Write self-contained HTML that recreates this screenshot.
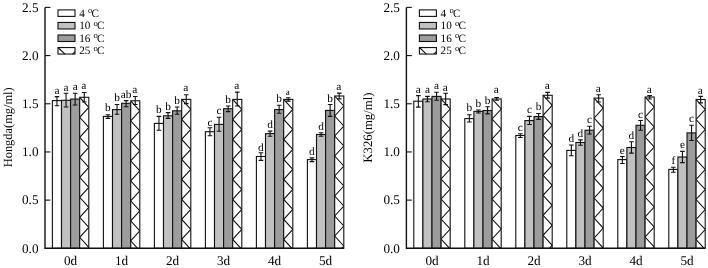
<!DOCTYPE html>
<html lang="en"><head><meta charset="utf-8"><title>Chart</title>
<style>
html,body{margin:0;padding:0;background:#fff;}
svg{display:block;text-rendering:geometricPrecision;will-change:transform;opacity:0.999;font-family:"Liberation Serif", "DejaVu Serif", serif;fill:#000;}
</style></head><body>
<svg width="708" height="268" viewBox="0 0 708 268">
<rect width="708" height="268" fill="#fff"/>
<rect x="52.4" y="100.6" width="9.1" height="147.7" fill="#ffffff" stroke="#111111" stroke-width="1.1"/>
<rect x="61.5" y="100.3" width="9.1" height="148" fill="#c1c1c1" stroke="#111111" stroke-width="1.1"/>
<rect x="70.6" y="99.1" width="9.1" height="149.2" fill="#9c9c9c" stroke="#111111" stroke-width="1.1"/>
<clipPath id="c1"><rect x="79.7" y="97.3" width="9.1" height="151"/></clipPath>
<rect x="79.7" y="97.3" width="9.1" height="151" fill="#fff"/>
<path d="M79.7 97.3 L88.8 107.3 L79.7 117.3 L88.8 127.3 L79.7 137.3 L88.8 147.3 L79.7 157.3 L88.8 167.3 L79.7 177.3 L88.8 187.3 L79.7 197.3 L88.8 207.3 L79.7 217.3 L88.8 227.3 L79.7 237.3 L88.8 247.3 L79.7 257.3 L88.8 267.3" clip-path="url(#c1)" fill="none" stroke="#111111" stroke-width="1.1"/>
<rect x="79.7" y="97.3" width="9.1" height="151" fill="none" stroke="#111111" stroke-width="1.1"/>
<rect x="103.4" y="116.4" width="9.1" height="131.9" fill="#ffffff" stroke="#111111" stroke-width="1.1"/>
<rect x="112.5" y="109.6" width="9.1" height="138.7" fill="#c1c1c1" stroke="#111111" stroke-width="1.1"/>
<rect x="121.6" y="103.3" width="9.1" height="145" fill="#9c9c9c" stroke="#111111" stroke-width="1.1"/>
<clipPath id="c2"><rect x="130.7" y="100.8" width="9.1" height="147.5"/></clipPath>
<rect x="130.7" y="100.8" width="9.1" height="147.5" fill="#fff"/>
<path d="M130.7 100.8 L139.8 110.8 L130.7 120.8 L139.8 130.8 L130.7 140.8 L139.8 150.8 L130.7 160.8 L139.8 170.8 L130.7 180.8 L139.8 190.8 L130.7 200.8 L139.8 210.8 L130.7 220.8 L139.8 230.8 L130.7 240.8 L139.8 250.8 L130.7 260.8" clip-path="url(#c2)" fill="none" stroke="#111111" stroke-width="1.1"/>
<rect x="130.7" y="100.8" width="9.1" height="147.5" fill="none" stroke="#111111" stroke-width="1.1"/>
<rect x="154.4" y="123.4" width="9.1" height="124.9" fill="#ffffff" stroke="#111111" stroke-width="1.1"/>
<rect x="163.5" y="115.8" width="9.1" height="132.5" fill="#c1c1c1" stroke="#111111" stroke-width="1.1"/>
<rect x="172.6" y="110.8" width="9.1" height="137.5" fill="#9c9c9c" stroke="#111111" stroke-width="1.1"/>
<clipPath id="c3"><rect x="181.7" y="99.4" width="9.1" height="148.9"/></clipPath>
<rect x="181.7" y="99.4" width="9.1" height="148.9" fill="#fff"/>
<path d="M181.7 99.4 L190.8 109.4 L181.7 119.4 L190.8 129.4 L181.7 139.4 L190.8 149.4 L181.7 159.4 L190.8 169.4 L181.7 179.4 L190.8 189.4 L181.7 199.4 L190.8 209.4 L181.7 219.4 L190.8 229.4 L181.7 239.4 L190.8 249.4 L181.7 259.4" clip-path="url(#c3)" fill="none" stroke="#111111" stroke-width="1.1"/>
<rect x="181.7" y="99.4" width="9.1" height="148.9" fill="none" stroke="#111111" stroke-width="1.1"/>
<rect x="205.4" y="131.7" width="9.1" height="116.6" fill="#ffffff" stroke="#111111" stroke-width="1.1"/>
<rect x="214.5" y="124.4" width="9.1" height="123.9" fill="#c1c1c1" stroke="#111111" stroke-width="1.1"/>
<rect x="223.6" y="108.7" width="9.1" height="139.6" fill="#9c9c9c" stroke="#111111" stroke-width="1.1"/>
<clipPath id="c4"><rect x="232.7" y="99.4" width="9.1" height="148.9"/></clipPath>
<rect x="232.7" y="99.4" width="9.1" height="148.9" fill="#fff"/>
<path d="M232.7 99.4 L241.8 109.4 L232.7 119.4 L241.8 129.4 L232.7 139.4 L241.8 149.4 L232.7 159.4 L241.8 169.4 L232.7 179.4 L241.8 189.4 L232.7 199.4 L241.8 209.4 L232.7 219.4 L241.8 229.4 L232.7 239.4 L241.8 249.4 L232.7 259.4" clip-path="url(#c4)" fill="none" stroke="#111111" stroke-width="1.1"/>
<rect x="232.7" y="99.4" width="9.1" height="148.9" fill="none" stroke="#111111" stroke-width="1.1"/>
<rect x="256.4" y="156.5" width="9.1" height="91.8" fill="#ffffff" stroke="#111111" stroke-width="1.1"/>
<rect x="265.5" y="133.6" width="9.1" height="114.7" fill="#c1c1c1" stroke="#111111" stroke-width="1.1"/>
<rect x="274.6" y="109.6" width="9.1" height="138.7" fill="#9c9c9c" stroke="#111111" stroke-width="1.1"/>
<clipPath id="c5"><rect x="283.7" y="99.4" width="9.1" height="148.9"/></clipPath>
<rect x="283.7" y="99.4" width="9.1" height="148.9" fill="#fff"/>
<path d="M283.7 99.4 L292.8 109.4 L283.7 119.4 L292.8 129.4 L283.7 139.4 L292.8 149.4 L283.7 159.4 L292.8 169.4 L283.7 179.4 L292.8 189.4 L283.7 199.4 L292.8 209.4 L283.7 219.4 L292.8 229.4 L283.7 239.4 L292.8 249.4 L283.7 259.4" clip-path="url(#c5)" fill="none" stroke="#111111" stroke-width="1.1"/>
<rect x="283.7" y="99.4" width="9.1" height="148.9" fill="none" stroke="#111111" stroke-width="1.1"/>
<rect x="307.4" y="159.6" width="9.1" height="88.7" fill="#ffffff" stroke="#111111" stroke-width="1.1"/>
<rect x="316.5" y="134.5" width="9.1" height="113.8" fill="#c1c1c1" stroke="#111111" stroke-width="1.1"/>
<rect x="325.6" y="110.4" width="9.1" height="137.9" fill="#9c9c9c" stroke="#111111" stroke-width="1.1"/>
<clipPath id="c6"><rect x="334.7" y="96" width="9.1" height="152.3"/></clipPath>
<rect x="334.7" y="96" width="9.1" height="152.3" fill="#fff"/>
<path d="M334.7 96 L343.8 106 L334.7 116 L343.8 126 L334.7 136 L343.8 146 L334.7 156 L343.8 166 L334.7 176 L343.8 186 L334.7 196 L343.8 206 L334.7 216 L343.8 226 L334.7 236 L343.8 246 L334.7 256 L343.8 266" clip-path="url(#c6)" fill="none" stroke="#111111" stroke-width="1.1"/>
<rect x="334.7" y="96" width="9.1" height="152.3" fill="none" stroke="#111111" stroke-width="1.1"/>
<path d="M56.95 96.6V105.8M54.65 96.6H59.25M54.65 105.8H59.25" fill="none" stroke="#111111" stroke-width="1.1"/>
<text x="56.95" y="93.9" font-size="11.3" text-anchor="middle">a</text>
<path d="M66.05 93.2V107M63.75 93.2H68.35M63.75 107H68.35" fill="none" stroke="#111111" stroke-width="1.1"/>
<text x="66.05" y="90.5" font-size="11.3" text-anchor="middle">a</text>
<path d="M75.15 93.2V105M72.85 93.2H77.45M72.85 105H77.45" fill="none" stroke="#111111" stroke-width="1.1"/>
<text x="75.15" y="89.8" font-size="11.3" text-anchor="middle">a</text>
<path d="M84.25 92.5V102M81.95 92.5H86.55M81.95 102H86.55" fill="none" stroke="#111111" stroke-width="1.1"/>
<text x="83.85" y="89.1" font-size="11.3" text-anchor="middle">a</text>
<path d="M107.95 114.7V118.4M105.65 114.7H110.25M105.65 118.4H110.25" fill="none" stroke="#111111" stroke-width="1.1"/>
<text x="107.95" y="111.3" font-size="11.3" text-anchor="middle">b</text>
<path d="M117.05 104.5V114.2M114.75 104.5H119.35M114.75 114.2H119.35" fill="none" stroke="#111111" stroke-width="1.1"/>
<text x="117.05" y="101.4" font-size="11.3" text-anchor="middle">b</text>
<path d="M126.15 100.6V106.7M123.85 100.6H128.45M123.85 106.7H128.45" fill="none" stroke="#111111" stroke-width="1.1"/>
<text x="126.15" y="97.7" font-size="11.3" text-anchor="middle">ab</text>
<path d="M135.25 96.5V104.5M132.95 96.5H137.55M132.95 104.5H137.55" fill="none" stroke="#111111" stroke-width="1.1"/>
<text x="134.85" y="92.6" font-size="11.3" text-anchor="middle">a</text>
<path d="M158.95 116.4V130.3M156.65 116.4H161.25M156.65 130.3H161.25" fill="none" stroke="#111111" stroke-width="1.1"/>
<text x="158.95" y="113" font-size="11.3" text-anchor="middle">b</text>
<path d="M168.05 112.6V118.4M165.75 112.6H170.35M165.75 118.4H170.35" fill="none" stroke="#111111" stroke-width="1.1"/>
<text x="168.05" y="109.7" font-size="11.3" text-anchor="middle">b</text>
<path d="M177.15 107V114.2M174.85 107H179.45M174.85 114.2H179.45" fill="none" stroke="#111111" stroke-width="1.1"/>
<text x="177.15" y="104.1" font-size="11.3" text-anchor="middle">b</text>
<path d="M186.25 94.7V103.6M183.95 94.7H188.55M183.95 103.6H188.55" fill="none" stroke="#111111" stroke-width="1.1"/>
<text x="185.85" y="91.3" font-size="11.3" text-anchor="middle">a</text>
<path d="M209.95 127.8V135.8M207.65 127.8H212.25M207.65 135.8H212.25" fill="none" stroke="#111111" stroke-width="1.1"/>
<text x="209.95" y="125.7" font-size="11.3" text-anchor="middle">c</text>
<path d="M219.05 117.3V131.2M216.75 117.3H221.35M216.75 131.2H221.35" fill="none" stroke="#111111" stroke-width="1.1"/>
<text x="219.05" y="113.9" font-size="11.3" text-anchor="middle">c</text>
<path d="M228.15 106V111.6M225.85 106H230.45M225.85 111.6H230.45" fill="none" stroke="#111111" stroke-width="1.1"/>
<text x="228.15" y="102.6" font-size="11.3" text-anchor="middle">b</text>
<path d="M237.25 92.1V106M234.95 92.1H239.55M234.95 106H239.55" fill="none" stroke="#111111" stroke-width="1.1"/>
<text x="236.85" y="89" font-size="11.3" text-anchor="middle">a</text>
<path d="M260.95 152.8V160.4M258.65 152.8H263.25M258.65 160.4H263.25" fill="none" stroke="#111111" stroke-width="1.1"/>
<text x="260.95" y="150.7" font-size="11.3" text-anchor="middle">d</text>
<path d="M270.05 131.1V136.2M267.75 131.1H272.35M267.75 136.2H272.35" fill="none" stroke="#111111" stroke-width="1.1"/>
<text x="270.05" y="127.7" font-size="11.3" text-anchor="middle">d</text>
<path d="M279.15 105.3V113.3M276.85 105.3H281.45M276.85 113.3H281.45" fill="none" stroke="#111111" stroke-width="1.1"/>
<text x="279.15" y="101.9" font-size="11.3" text-anchor="middle">b</text>
<path d="M288.25 97.7V101.1M285.95 97.7H290.55M285.95 101.1H290.55" fill="none" stroke="#111111" stroke-width="1.1"/>
<text x="287.85" y="94.7" font-size="9" text-anchor="middle">a</text>
<path d="M311.95 157.9V161.6M309.65 157.9H314.25M309.65 161.6H314.25" fill="none" stroke="#111111" stroke-width="1.1"/>
<text x="311.95" y="154.5" font-size="11.3" text-anchor="middle">d</text>
<path d="M321.05 132.8V136.2M318.75 132.8H323.35M318.75 136.2H323.35" fill="none" stroke="#111111" stroke-width="1.1"/>
<text x="321.05" y="129.9" font-size="11.3" text-anchor="middle">d</text>
<path d="M330.15 104.5V116.4M327.85 104.5H332.45M327.85 116.4H332.45" fill="none" stroke="#111111" stroke-width="1.1"/>
<text x="330.15" y="101.7" font-size="11.3" text-anchor="middle">b</text>
<path d="M339.25 93.1V98.9M336.95 93.1H341.55M336.95 98.9H341.55" fill="none" stroke="#111111" stroke-width="1.1"/>
<text x="338.85" y="90.2" font-size="11.3" text-anchor="middle">a</text>
<path d="M45 7.4V248.3H343.8" fill="none" stroke="#111111" stroke-width="1.4"/>
<text x="38.5" y="252.5" font-size="13.2" text-anchor="end">0.0</text>
<path d="M45 200.12H50.4" stroke="#111111" stroke-width="1.1"/>
<text x="38.5" y="204.32" font-size="13.2" text-anchor="end">0.5</text>
<path d="M45 151.94H50.4" stroke="#111111" stroke-width="1.1"/>
<text x="38.5" y="156.14" font-size="13.2" text-anchor="end">1.0</text>
<path d="M45 103.76H50.4" stroke="#111111" stroke-width="1.1"/>
<text x="38.5" y="107.96" font-size="13.2" text-anchor="end">1.5</text>
<path d="M45 55.58H50.4" stroke="#111111" stroke-width="1.1"/>
<text x="38.5" y="59.78" font-size="13.2" text-anchor="end">2.0</text>
<path d="M45 7.4H50.4" stroke="#111111" stroke-width="1.1"/>
<text x="38.5" y="11.6" font-size="13.2" text-anchor="end">2.5</text>
<text x="70.6" y="264.8" font-size="13.2" text-anchor="middle">0d</text>
<text x="121.6" y="264.8" font-size="13.2" text-anchor="middle">1d</text>
<text x="172.6" y="264.8" font-size="13.2" text-anchor="middle">2d</text>
<text x="223.6" y="264.8" font-size="13.2" text-anchor="middle">3d</text>
<text x="274.6" y="264.8" font-size="13.2" text-anchor="middle">4d</text>
<text x="325.6" y="264.8" font-size="13.2" text-anchor="middle">5d</text>
<text transform="translate(11.6 127.3) rotate(-90)" font-size="12.4" text-anchor="middle">Hongda(mg/ml)</text>
<rect x="58" y="9.9" width="17.0" height="6.5" fill="#ffffff" stroke="#111111" stroke-width="1.1"/>
<text x="79.2" y="16.7" font-size="11.2">4 <tspan font-size="8.6" dy="-3.7" dx="0.4">o</tspan><tspan dy="3.7" dx="-0.8">C</tspan></text>
<rect x="58" y="22.45" width="17.0" height="6.5" fill="#c1c1c1" stroke="#111111" stroke-width="1.1"/>
<text x="79.2" y="29.25" font-size="11.2">10 <tspan font-size="8.6" dy="-3.7" dx="0.4">o</tspan><tspan dy="3.7" dx="-0.8">C</tspan></text>
<rect x="58" y="35" width="17.0" height="6.5" fill="#9c9c9c" stroke="#111111" stroke-width="1.1"/>
<text x="79.2" y="41.8" font-size="11.2">16 <tspan font-size="8.6" dy="-3.7" dx="0.4">o</tspan><tspan dy="3.7" dx="-0.8">C</tspan></text>
<rect x="58" y="47.55" width="17.0" height="6.5" fill="#fff" stroke="#111111" stroke-width="1.1"/>
<path d="M58.3 47.75L65 54.05M72.6 54.05L75 51.55" fill="none" stroke="#111111" stroke-width="1.1"/>
<text x="79.2" y="54.35" font-size="11.2">25 <tspan font-size="8.6" dy="-3.7" dx="0.4">o</tspan><tspan dy="3.7" dx="-0.8">C</tspan></text>
<rect x="413.8" y="101.2" width="9.1" height="147.1" fill="#ffffff" stroke="#111111" stroke-width="1.1"/>
<rect x="422.9" y="99" width="9.1" height="149.3" fill="#c1c1c1" stroke="#111111" stroke-width="1.1"/>
<rect x="432" y="96.4" width="9.1" height="151.9" fill="#9c9c9c" stroke="#111111" stroke-width="1.1"/>
<clipPath id="c7"><rect x="441.1" y="99" width="9.1" height="149.3"/></clipPath>
<rect x="441.1" y="99" width="9.1" height="149.3" fill="#fff"/>
<path d="M441.1 99 L450.2 109 L441.1 119 L450.2 129 L441.1 139 L450.2 149 L441.1 159 L450.2 169 L441.1 179 L450.2 189 L441.1 199 L450.2 209 L441.1 219 L450.2 229 L441.1 239 L450.2 249 L441.1 259" clip-path="url(#c7)" fill="none" stroke="#111111" stroke-width="1.1"/>
<rect x="441.1" y="99" width="9.1" height="149.3" fill="none" stroke="#111111" stroke-width="1.1"/>
<rect x="464.8" y="118.6" width="9.1" height="129.7" fill="#ffffff" stroke="#111111" stroke-width="1.1"/>
<rect x="473.9" y="111.4" width="9.1" height="136.9" fill="#c1c1c1" stroke="#111111" stroke-width="1.1"/>
<rect x="483" y="110.5" width="9.1" height="137.8" fill="#9c9c9c" stroke="#111111" stroke-width="1.1"/>
<clipPath id="c8"><rect x="492.1" y="99" width="9.1" height="149.3"/></clipPath>
<rect x="492.1" y="99" width="9.1" height="149.3" fill="#fff"/>
<path d="M492.1 99 L501.2 109 L492.1 119 L501.2 129 L492.1 139 L501.2 149 L492.1 159 L501.2 169 L492.1 179 L501.2 189 L492.1 199 L501.2 209 L492.1 219 L501.2 229 L492.1 239 L501.2 249 L492.1 259" clip-path="url(#c8)" fill="none" stroke="#111111" stroke-width="1.1"/>
<rect x="492.1" y="99" width="9.1" height="149.3" fill="none" stroke="#111111" stroke-width="1.1"/>
<rect x="515.8" y="135.5" width="9.1" height="112.8" fill="#ffffff" stroke="#111111" stroke-width="1.1"/>
<rect x="524.9" y="120.6" width="9.1" height="127.7" fill="#c1c1c1" stroke="#111111" stroke-width="1.1"/>
<rect x="534" y="116.5" width="9.1" height="131.8" fill="#9c9c9c" stroke="#111111" stroke-width="1.1"/>
<clipPath id="c9"><rect x="543.1" y="95.3" width="9.1" height="153"/></clipPath>
<rect x="543.1" y="95.3" width="9.1" height="153" fill="#fff"/>
<path d="M543.1 95.3 L552.2 105.3 L543.1 115.3 L552.2 125.3 L543.1 135.3 L552.2 145.3 L543.1 155.3 L552.2 165.3 L543.1 175.3 L552.2 185.3 L543.1 195.3 L552.2 205.3 L543.1 215.3 L552.2 225.3 L543.1 235.3 L552.2 245.3 L543.1 255.3 L552.2 265.3" clip-path="url(#c9)" fill="none" stroke="#111111" stroke-width="1.1"/>
<rect x="543.1" y="95.3" width="9.1" height="153" fill="none" stroke="#111111" stroke-width="1.1"/>
<rect x="566.8" y="150.4" width="9.1" height="97.9" fill="#ffffff" stroke="#111111" stroke-width="1.1"/>
<rect x="575.9" y="142.5" width="9.1" height="105.8" fill="#c1c1c1" stroke="#111111" stroke-width="1.1"/>
<rect x="585" y="130.2" width="9.1" height="118.1" fill="#9c9c9c" stroke="#111111" stroke-width="1.1"/>
<clipPath id="c10"><rect x="594.1" y="98.1" width="9.1" height="150.2"/></clipPath>
<rect x="594.1" y="98.1" width="9.1" height="150.2" fill="#fff"/>
<path d="M594.1 98.1 L603.2 108.1 L594.1 118.1 L603.2 128.1 L594.1 138.1 L603.2 148.1 L594.1 158.1 L603.2 168.1 L594.1 178.1 L603.2 188.1 L594.1 198.1 L603.2 208.1 L594.1 218.1 L603.2 228.1 L594.1 238.1 L603.2 248.1 L594.1 258.1 L603.2 268.1" clip-path="url(#c10)" fill="none" stroke="#111111" stroke-width="1.1"/>
<rect x="594.1" y="98.1" width="9.1" height="150.2" fill="none" stroke="#111111" stroke-width="1.1"/>
<rect x="617.8" y="159.6" width="9.1" height="88.7" fill="#ffffff" stroke="#111111" stroke-width="1.1"/>
<rect x="626.9" y="147.5" width="9.1" height="100.8" fill="#c1c1c1" stroke="#111111" stroke-width="1.1"/>
<rect x="636" y="125.3" width="9.1" height="123" fill="#9c9c9c" stroke="#111111" stroke-width="1.1"/>
<clipPath id="c11"><rect x="645.1" y="97" width="9.1" height="151.3"/></clipPath>
<rect x="645.1" y="97" width="9.1" height="151.3" fill="#fff"/>
<path d="M645.1 97 L654.2 107 L645.1 117 L654.2 127 L645.1 137 L654.2 147 L645.1 157 L654.2 167 L645.1 177 L654.2 187 L645.1 197 L654.2 207 L645.1 217 L654.2 227 L645.1 237 L654.2 247 L645.1 257 L654.2 267" clip-path="url(#c11)" fill="none" stroke="#111111" stroke-width="1.1"/>
<rect x="645.1" y="97" width="9.1" height="151.3" fill="none" stroke="#111111" stroke-width="1.1"/>
<rect x="668.8" y="169.4" width="9.1" height="78.9" fill="#ffffff" stroke="#111111" stroke-width="1.1"/>
<rect x="677.9" y="157" width="9.1" height="91.3" fill="#c1c1c1" stroke="#111111" stroke-width="1.1"/>
<rect x="687" y="132.9" width="9.1" height="115.4" fill="#9c9c9c" stroke="#111111" stroke-width="1.1"/>
<clipPath id="c12"><rect x="696.1" y="99.5" width="9.1" height="148.8"/></clipPath>
<rect x="696.1" y="99.5" width="9.1" height="148.8" fill="#fff"/>
<path d="M696.1 99.5 L705.2 109.5 L696.1 119.5 L705.2 129.5 L696.1 139.5 L705.2 149.5 L696.1 159.5 L705.2 169.5 L696.1 179.5 L705.2 189.5 L696.1 199.5 L705.2 209.5 L696.1 219.5 L705.2 229.5 L696.1 239.5 L705.2 249.5 L696.1 259.5" clip-path="url(#c12)" fill="none" stroke="#111111" stroke-width="1.1"/>
<rect x="696.1" y="99.5" width="9.1" height="148.8" fill="none" stroke="#111111" stroke-width="1.1"/>
<path d="M418.35 95.6V107.1M416.05 95.6H420.65M416.05 107.1H420.65" fill="none" stroke="#111111" stroke-width="1.1"/>
<text x="418.35" y="92.7" font-size="11.3" text-anchor="middle">a</text>
<path d="M427.45 96.4V101.7M425.15 96.4H429.75M425.15 101.7H429.75" fill="none" stroke="#111111" stroke-width="1.1"/>
<text x="427.45" y="93" font-size="11.3" text-anchor="middle">a</text>
<path d="M436.55 92.2V100.3M434.25 92.2H438.85M434.25 100.3H438.85" fill="none" stroke="#111111" stroke-width="1.1"/>
<text x="436.55" y="89.3" font-size="11.3" text-anchor="middle">a</text>
<path d="M445.65 93.2V104.6M443.35 93.2H447.95M443.35 104.6H447.95" fill="none" stroke="#111111" stroke-width="1.1"/>
<text x="445.25" y="90.5" font-size="11.3" text-anchor="middle">a</text>
<path d="M469.35 114.7V122M467.05 114.7H471.65M467.05 122H471.65" fill="none" stroke="#111111" stroke-width="1.1"/>
<text x="469.35" y="111.3" font-size="11.3" text-anchor="middle">b</text>
<path d="M478.45 110V113M476.15 110H480.75M476.15 113H480.75" fill="none" stroke="#111111" stroke-width="1.1"/>
<text x="478.45" y="106.6" font-size="11.3" text-anchor="middle">b</text>
<path d="M487.55 106.8V113.9M485.25 106.8H489.85M485.25 113.9H489.85" fill="none" stroke="#111111" stroke-width="1.1"/>
<text x="487.55" y="103.9" font-size="11.3" text-anchor="middle">b</text>
<path d="M496.65 97.5V100.3M494.35 97.5H498.95M494.35 100.3H498.95" fill="none" stroke="#111111" stroke-width="1.1"/>
<text x="496.25" y="93.4" font-size="11.3" text-anchor="middle">a</text>
<path d="M520.35 133.8V137.5M518.05 133.8H522.65M518.05 137.5H522.65" fill="none" stroke="#111111" stroke-width="1.1"/>
<text x="520.35" y="130.7" font-size="11.3" text-anchor="middle">c</text>
<path d="M529.45 116.4V124.5M527.15 116.4H531.75M527.15 124.5H531.75" fill="none" stroke="#111111" stroke-width="1.1"/>
<text x="529.45" y="113.4" font-size="11.3" text-anchor="middle">c</text>
<path d="M538.55 113.5V119.4M536.25 113.5H540.85M536.25 119.4H540.85" fill="none" stroke="#111111" stroke-width="1.1"/>
<text x="538.55" y="110.4" font-size="11.3" text-anchor="middle">b</text>
<path d="M547.65 92.4V98.1M545.35 92.4H549.95M545.35 98.1H549.95" fill="none" stroke="#111111" stroke-width="1.1"/>
<text x="547.25" y="89" font-size="11.3" text-anchor="middle">a</text>
<path d="M571.35 145V155.8M569.05 145H573.65M569.05 155.8H573.65" fill="none" stroke="#111111" stroke-width="1.1"/>
<text x="571.35" y="141.9" font-size="11.3" text-anchor="middle">d</text>
<path d="M580.45 139.9V145.3M578.15 139.9H582.75M578.15 145.3H582.75" fill="none" stroke="#111111" stroke-width="1.1"/>
<text x="580.45" y="136.8" font-size="11.3" text-anchor="middle">d</text>
<path d="M589.55 126.2V134M587.25 126.2H591.85M587.25 134H591.85" fill="none" stroke="#111111" stroke-width="1.1"/>
<text x="589.55" y="122.8" font-size="11.3" text-anchor="middle">c</text>
<path d="M598.65 94.8V102M596.35 94.8H600.95M596.35 102H600.95" fill="none" stroke="#111111" stroke-width="1.1"/>
<text x="598.25" y="91.9" font-size="11.3" text-anchor="middle">a</text>
<path d="M622.35 156.5V163.5M620.05 156.5H624.65M620.05 163.5H624.65" fill="none" stroke="#111111" stroke-width="1.1"/>
<text x="622.35" y="154.3" font-size="11.3" text-anchor="middle">e</text>
<path d="M631.45 141.8V153.1M629.15 141.8H633.75M629.15 153.1H633.75" fill="none" stroke="#111111" stroke-width="1.1"/>
<text x="631.45" y="138.8" font-size="11.3" text-anchor="middle">d</text>
<path d="M640.55 120.5V130.3M638.25 120.5H642.85M638.25 130.3H642.85" fill="none" stroke="#111111" stroke-width="1.1"/>
<text x="640.55" y="117.5" font-size="11.3" text-anchor="middle">c</text>
<path d="M649.65 95.6V99M647.35 95.6H651.95M647.35 99H651.95" fill="none" stroke="#111111" stroke-width="1.1"/>
<text x="649.25" y="93" font-size="11.3" text-anchor="middle">a</text>
<path d="M673.35 167.2V172.3M671.05 167.2H675.65M671.05 172.3H675.65" fill="none" stroke="#111111" stroke-width="1.1"/>
<text x="673.35" y="164.2" font-size="11.3" text-anchor="middle">f</text>
<path d="M682.45 151.4V162.6M680.15 151.4H684.75M680.15 162.6H684.75" fill="none" stroke="#111111" stroke-width="1.1"/>
<text x="682.45" y="148.2" font-size="11.3" text-anchor="middle">e</text>
<path d="M691.55 125.3V140.5M689.25 125.3H693.85M689.25 140.5H693.85" fill="none" stroke="#111111" stroke-width="1.1"/>
<text x="691.55" y="121.9" font-size="11.3" text-anchor="middle">c</text>
<path d="M700.65 96.4V102.9M698.35 96.4H702.95M698.35 102.9H702.95" fill="none" stroke="#111111" stroke-width="1.1"/>
<text x="700.25" y="94.2" font-size="11.3" text-anchor="middle">a</text>
<path d="M406.4 7.4V248.3H705.2" fill="none" stroke="#111111" stroke-width="1.4"/>
<text x="399.9" y="252.5" font-size="13.2" text-anchor="end">0.0</text>
<path d="M406.4 200.12H411.8" stroke="#111111" stroke-width="1.1"/>
<text x="399.9" y="204.32" font-size="13.2" text-anchor="end">0.5</text>
<path d="M406.4 151.94H411.8" stroke="#111111" stroke-width="1.1"/>
<text x="399.9" y="156.14" font-size="13.2" text-anchor="end">1.0</text>
<path d="M406.4 103.76H411.8" stroke="#111111" stroke-width="1.1"/>
<text x="399.9" y="107.96" font-size="13.2" text-anchor="end">1.5</text>
<path d="M406.4 55.58H411.8" stroke="#111111" stroke-width="1.1"/>
<text x="399.9" y="59.78" font-size="13.2" text-anchor="end">2.0</text>
<path d="M406.4 7.4H411.8" stroke="#111111" stroke-width="1.1"/>
<text x="399.9" y="11.6" font-size="13.2" text-anchor="end">2.5</text>
<text x="432" y="264.8" font-size="13.2" text-anchor="middle">0d</text>
<text x="483" y="264.8" font-size="13.2" text-anchor="middle">1d</text>
<text x="534" y="264.8" font-size="13.2" text-anchor="middle">2d</text>
<text x="585" y="264.8" font-size="13.2" text-anchor="middle">3d</text>
<text x="636" y="264.8" font-size="13.2" text-anchor="middle">4d</text>
<text x="687" y="264.8" font-size="13.2" text-anchor="middle">5d</text>
<text transform="translate(372.4 127.6) rotate(-90)" font-size="12.75" text-anchor="middle">K326(mg/ml)</text>
<rect x="419.4" y="9.9" width="17.0" height="6.5" fill="#ffffff" stroke="#111111" stroke-width="1.1"/>
<text x="440.6" y="16.7" font-size="11.2">4 <tspan font-size="8.6" dy="-3.7" dx="0.4">o</tspan><tspan dy="3.7" dx="-0.8">C</tspan></text>
<rect x="419.4" y="22.45" width="17.0" height="6.5" fill="#c1c1c1" stroke="#111111" stroke-width="1.1"/>
<text x="440.6" y="29.25" font-size="11.2">10 <tspan font-size="8.6" dy="-3.7" dx="0.4">o</tspan><tspan dy="3.7" dx="-0.8">C</tspan></text>
<rect x="419.4" y="35" width="17.0" height="6.5" fill="#9c9c9c" stroke="#111111" stroke-width="1.1"/>
<text x="440.6" y="41.8" font-size="11.2">16 <tspan font-size="8.6" dy="-3.7" dx="0.4">o</tspan><tspan dy="3.7" dx="-0.8">C</tspan></text>
<rect x="419.4" y="47.55" width="17.0" height="6.5" fill="#fff" stroke="#111111" stroke-width="1.1"/>
<path d="M419.7 47.75L426.4 54.05M434 54.05L436.4 51.55" fill="none" stroke="#111111" stroke-width="1.1"/>
<text x="440.6" y="54.35" font-size="11.2">25 <tspan font-size="8.6" dy="-3.7" dx="0.4">o</tspan><tspan dy="3.7" dx="-0.8">C</tspan></text>
</svg>
</body></html>
